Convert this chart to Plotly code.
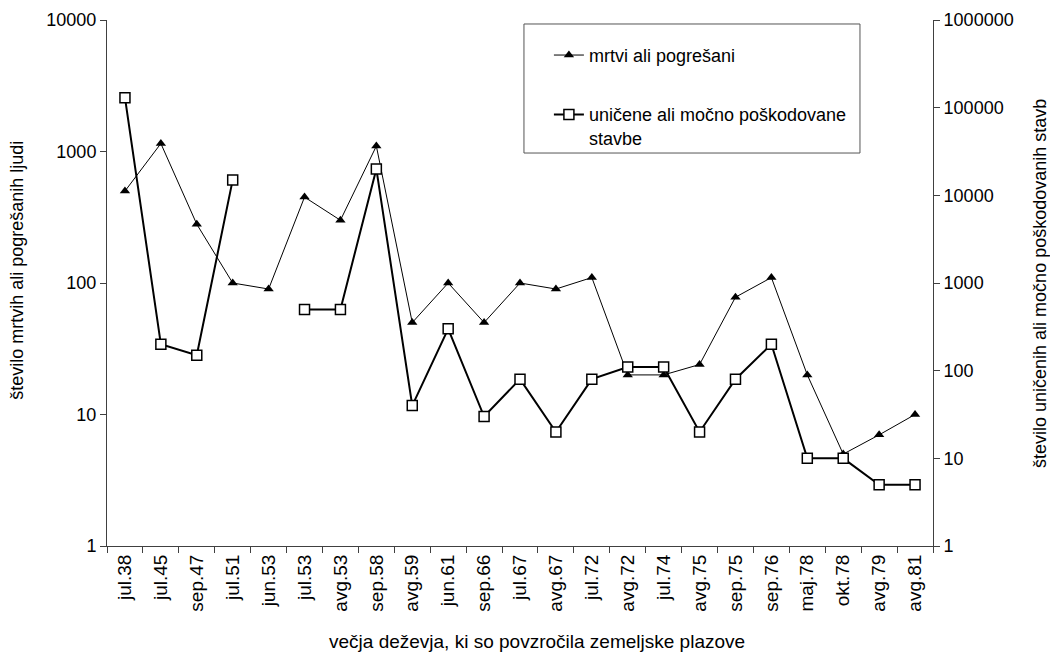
import plotly.graph_objects as go

categories = ["jul.38", "jul.45", "sep.47", "jul.51", "jun.53", "jul.53", "avg.53", "sep.58",
              "avg.59", "jun.61", "sep.66", "jul.67", "avg.67", "jul.72", "avg.72", "jul.74",
              "avg.75", "sep.75", "sep.76", "maj.78", "okt.78", "avg.79", "avg.81"]

mrtvi = [500, 1150, 280, 100, 90, 450, 300, 1100, 50, 100, 50, 100, 90, 110, 20, 20,
         24, 78, 110, 20, 5, 7, 10]

stavbe = [130000, 200, 150, 15000, None, 500, 500, 20000, 40, 300, 30, 80, 20, 80, 110, 110,
          20, 80, 200, 10, 10, 5, 5]

left_ticks = [1, 10, 100, 1000, 10000]
right_ticks = [1, 10, 100, 1000, 10000, 100000, 1000000]

FONT = "Liberation Sans, Arial, sans-serif"
AX = "#404040"

fig = go.Figure()

fig.add_trace(go.Scatter(
    x=categories, y=mrtvi, name="mrtvi ali pogrešani",
    mode="lines+markers", yaxis="y", legendgroup="a",
    line=dict(color="black", width=1),
    marker=dict(symbol="triangle-up", size=9, color="black"),
))
fig.add_trace(go.Scatter(
    x=categories, y=stavbe, name="uničene ali močno poškodovane<br>stavbe",
    mode="lines+markers", yaxis="y2", legendgroup="b", connectgaps=False,
    line=dict(color="black", width=2),
    marker=dict(symbol="square", size=10, color="white", line=dict(color="black", width=1.5)),
))

n = len(categories)
bounds = [i - 0.5 for i in range(n + 1)]

fig.update_layout(
    width=1050, height=654,
    margin=dict(l=107, r=117, t=20, b=108),
    paper_bgcolor="white", plot_bgcolor="white",
    font=dict(family=FONT, size=18, color="black"),
    showlegend=True,
    legend=dict(
        x=0.535, y=0.968, xanchor="left", yanchor="top",
        bgcolor="rgba(0,0,0,0)", borderwidth=0,
        font=dict(family=FONT, size=18, color="black"),
        tracegroupgap=33, valign="top", traceorder="grouped",
    ),
    xaxis=dict(
        type="category", categoryorder="array", categoryarray=categories,
        range=[-0.5, n - 0.5], automargin=False,
        showline=True, linecolor=AX, linewidth=1, mirror=False,
        ticks="outside", ticklen=6, tickcolor=AX, tickson="boundaries",
        tickangle=-90, tickfont=dict(size=19),
        showgrid=False, zeroline=False,
    ),
    xaxis2=dict(
        overlaying="x", anchor="y", range=[-0.5, n - 0.5], automargin=False,
        tickvals=bounds, ticks="inside", ticklen=5, tickcolor=AX,
        showticklabels=False, showgrid=False, zeroline=False, showline=False,
    ),
    yaxis=dict(
        type="log", range=[0, 4], automargin=False,
        tickvals=left_ticks, ticktext=[str(v) for v in left_ticks],
        showline=True, linecolor=AX, linewidth=1,
        ticks="outside", ticklen=6, tickcolor=AX,
        showgrid=False, zeroline=False, tickfont=dict(size=18),
    ),
    yaxis2=dict(
        type="log", range=[0, 6], overlaying="y", side="right", anchor="x", automargin=False,
        tickvals=right_ticks, ticktext=[str(v) for v in right_ticks],
        showline=True, linecolor=AX, linewidth=1,
        ticks="outside", ticklen=6, tickcolor=AX,
        showgrid=False, zeroline=False, tickfont=dict(size=18),
    ),
    yaxis3=dict(
        type="log", range=[0, 4], overlaying="y", side="left", anchor="x", automargin=False,
        tickvals=left_ticks, ticks="inside", ticklen=5, tickcolor=AX,
        showticklabels=False, showgrid=False, zeroline=False, showline=False,
    ),
    yaxis4=dict(
        type="log", range=[0, 6], overlaying="y", side="right", anchor="x", automargin=False,
        tickvals=right_ticks, ticks="inside", ticklen=5, tickcolor=AX,
        showticklabels=False, showgrid=False, zeroline=False, showline=False,
    ),
    shapes=[dict(
        type="rect", xref="paper", yref="paper",
        x0=0.5048, x1=0.9116, y0=0.7471, y1=0.9924,
        line=dict(color="#555555", width=1), fillcolor="rgba(0,0,0,0)", layer="below",
    )],
    annotations=[
        dict(text="število mrtvih ali pogrešanih ljudi", xref="paper", yref="paper",
             x=-0.109, y=0.525, xanchor="center", yanchor="middle", textangle=-90,
             showarrow=False, font=dict(size=18)),
        dict(text="število uničenih ali močno poškodovanih stavb", xref="paper", yref="paper",
             x=1.1295, y=0.5, xanchor="center", yanchor="middle", textangle=-90,
             showarrow=False, font=dict(size=18)),
        dict(text="večja deževja, ki so povzročila zemeljske plazove", xref="paper", yref="paper",
             x=0.5206, y=-0.1825, xanchor="center", yanchor="middle",
             showarrow=False, font=dict(size=19)),
    ],
)

fig.write_html("out.html", config={"displayModeBar": False},
               post_script="document.body.style.margin='0';")
